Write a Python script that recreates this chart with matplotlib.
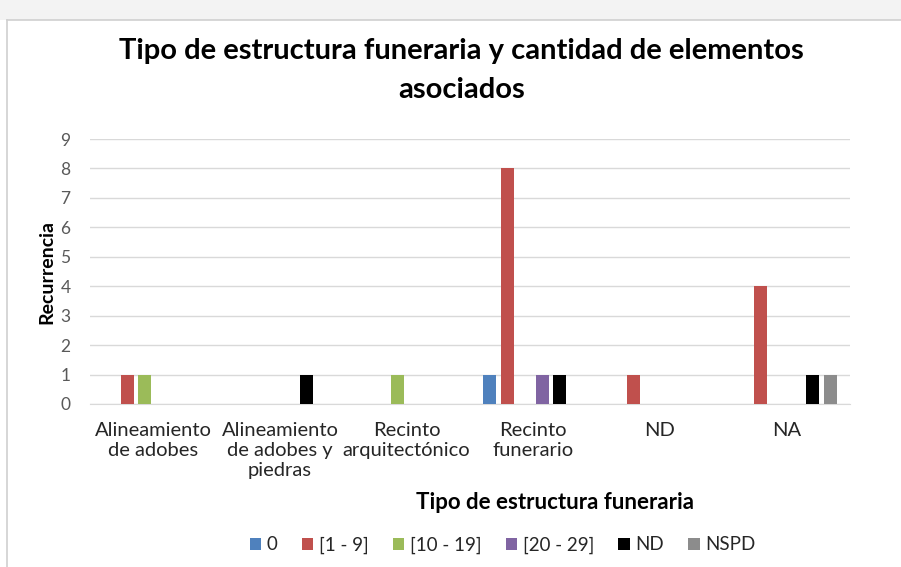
import matplotlib.pyplot as plt
from matplotlib.patches import Rectangle
from matplotlib.lines import Line2D
import numpy as np

plt.rcParams['font.family'] = ['Lato', 'DejaVu Sans']

# Data
categories = ['Alineamiento\nde adobes', 'Alineamiento\nde adobes y\npiedras',
              'Recinto\narquitectónico', 'Recinto\nfunerario', 'ND', 'NA']
series_names = ['0', '[1 - 9]', '[10 - 19]', '[20 - 29]', 'ND', 'NSPD']
s_0 = [0, 0, 0, 1, 0, 0]
s_1_9 = [1, 0, 0, 8, 1, 4]
s_10_19 = [1, 0, 1, 0, 0, 0]
s_20_29 = [0, 0, 0, 1, 0, 0]
s_nd = [0, 1, 0, 1, 0, 1]
s_nspd = [0, 0, 0, 0, 0, 1]
series = [s_0, s_1_9, s_10_19, s_20_29, s_nd, s_nspd]
colors = ['#4F81BD', '#C0504D', '#9BBB59', '#8064A2', '#000000', '#8C8C8C']

fig = plt.figure(figsize=(9.01, 5.67), dpi=100)
fig.patch.set_facecolor('white')

# chart frame like the Excel chart area
fig.patches.append(Rectangle((0, 1 - 20/567), 1, 20/567, transform=fig.transFigure,
                             facecolor='#F3F3F3', edgecolor='none', zorder=0))
fig.add_artist(Line2D([7/901, 7/901], [0, 1 - 20/567], color='#D0D0D0', lw=1.2))
fig.add_artist(Line2D([7/901, 1], [1 - 20/567, 1 - 20/567], color='#D0D0D0', lw=1.2))

ax = fig.add_axes([90/901, 1 - 404/567, 760/901, 265/567])

x = np.arange(len(categories))
stride = 0.138
width = 0.102
for i, (vals, col, name) in enumerate(zip(series, colors, series_names)):
    ax.bar(x + (i - 2.5) * stride, vals, width, color=col, label=name, zorder=3)

ax.set_xlim(-0.5, len(categories) - 0.5)
ax.set_ylim(0, 9)
ax.set_yticks(range(10))
ax.yaxis.grid(True, color='#D9D9D9', lw=1, zorder=0)
for s in ['top', 'right', 'left']:
    ax.spines[s].set_visible(False)
ax.spines['bottom'].set_color('#D9D9D9')
ax.tick_params(axis='both', length=0, colors='#595959')
ax.tick_params(axis='y', pad=14, labelsize=12.5)
ax.tick_params(axis='x', pad=13, labelcolor='#262626', labelsize=14.5)
ax.set_xticks(x)
ax.set_xticklabels(categories, linespacing=1.22)

ax.set_ylabel('Recurrencia', fontsize=14, fontweight='bold', color='black', labelpad=4)
ax.set_xlabel('Tipo de estructura funeraria', fontsize=16, fontweight='bold', color='black')
ax.xaxis.set_label_coords(0.612, -0.37)
ax.xaxis.label.set_verticalalignment('center')

fig.suptitle('Tipo de estructura funeraria y cantidad de elementos\nasociados',
             x=0.512, fontsize=21, fontweight='bold', y=0.933, linespacing=1.62)

ax.legend(loc='center', bbox_to_anchor=(0.543, -0.532), ncol=6, frameon=False,
          fontsize=13.5, handlelength=0.6, handleheight=0.6, handletextpad=0.3,
          columnspacing=1.3, labelcolor='#262626')

fig.savefig('out.png', dpi=100, facecolor='white')
